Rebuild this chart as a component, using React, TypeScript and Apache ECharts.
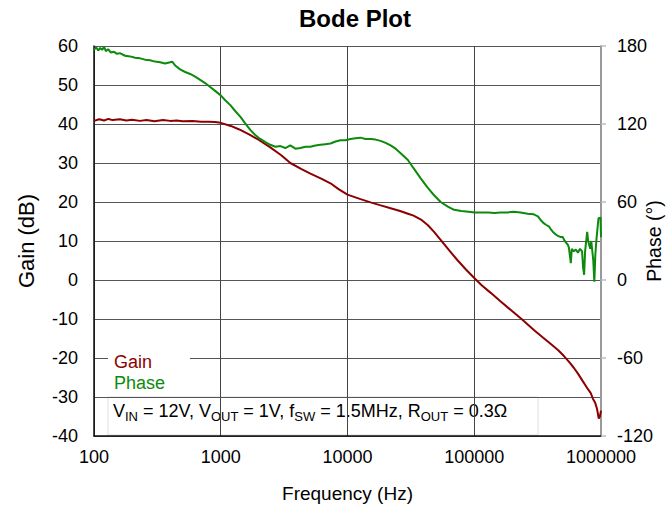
import React, { useEffect, useRef } from "react";
import * as echarts from "echarts";

const gainFreq = [100,110,120,130,140,160,180,200,230,260,300,350,400,450,500,600,700,800,900,1000,1200,1400,1700,2000,2460,3000,3540,4300,5100,6200,7340,8500,10000,12500,15200,18000,21900,26000,30000,33200,38000,42900,48000,54300,63000,74100,86000,100000,115000,134900,160000,194400,240000,295400,350000,402000,460000,510000,560000,610000,658000,720000,789000,830000,865000,900000,930000,960000,980000,1000000];
const gainDb = [40.8,41.2,40.9,41.3,41.0,41.2,40.9,41.1,40.8,41.0,40.7,41.0,40.8,40.9,40.7,40.8,40.6,40.6,40.5,40.3,39.5,38.6,37.2,35.9,34.0,32.0,30.0,28.5,27.3,26.0,24.8,23.3,21.9,20.8,19.9,19.2,18.4,17.7,17.0,16.5,15.5,14.1,12.4,10.3,7.7,5.0,2.7,0.5,-1.4,-3.3,-5.4,-7.7,-10.2,-12.8,-14.8,-16.4,-18.0,-19.5,-21.0,-22.5,-24.0,-26.0,-28.0,-29.0,-30.5,-31.5,-33.0,-35.5,-35.0,-33.5];

const phaseFreq = [100,104,108,112,116,120,124,129,136,144,152,160,176,193,211,231,253,277,303,332,364,399,414,437,478,524,574,628,688,753,825,903,1000,1080,1190,1300,1430,1560,1711,1870,2050,2250,2460,2700,2960,3230,3540,3880,4250,4650,5100,5580,6110,6700,7340,8040,8800,9640,10560,11570,12670,13880,15200,16650,18240,19980,21880,23970,26260,29960,33200,37800,42900,48000,54300,61900,69400,79000,90000,101000,113000,129000,145000,161000,183000,205000,232000,264000,295000,318000,335000,355000,368000,390000,402000,418000,440000,457000,482000,500000,510000,528000,548000,558000,578000,588000,610000,633000,658000,683000,709000,722000,736000,749000,778000,792000,822000,838000,869000,886000,903000,920000,955000,991000,1000000];
const phaseDeg = [177,179,176.5,178.5,177,179.5,176,177.5,175,175.5,174,174.5,172.5,172,171,170.5,169.5,169,168,167.5,166.5,167.5,168,165,162,160,158.5,156.5,154,151.5,148.5,145.5,142,138.5,134.5,130,125.5,120.5,115.5,111.5,108.5,106,104,102.5,103,101.5,103.5,101,101.5,102.5,102.5,103.5,104,104.5,105,106.5,107.5,107.5,108.5,109,109.5,108.5,108.5,108,107,105.5,103.5,101,97.5,92.3,86,78.2,71,65.4,60,56.5,54,53,52.5,52,52,52,51.5,52,52,52.5,52,51,50.5,49,46,43.5,42.5,41,39,37,35,34,33,33,31,29,27,25,13,24,22,23.5,21,24,22,10,4,22,37,30,24,30,15,-1.3,20,30.8,47.5,48,33];

const gainTicks = { min: -40, max: 60, interval: 10 };
const phaseTicks = { min: -120, max: 180, interval: 60 };
const freqRange = { min: 100, max: 1000000 };

const FONT = "'Liberation Sans', Arial, sans-serif";

export default function App() {
  const ref = useRef<HTMLDivElement>(null);
  useEffect(() => {
    document.body.style.margin = "0";
    const chart = echarts.init(ref.current!, undefined, { renderer: "svg" });
    const gainData = gainFreq.map((f, i) => [f, gainDb[i]]);
    const phaseData = phaseFreq.map((f, i) => [f, phaseDeg[i]]);
    chart.setOption({
      animation: false,
      backgroundColor: "#fff",
      textStyle: { fontFamily: FONT },
      title: {
        text: "Bode Plot",
        left: 350,
        textAlign: "center",
        top: 1,
        textStyle: { fontSize: 24, fontWeight: "bold", color: "#000", fontFamily: FONT },
      },
      grid: { left: 94, right: 71, top: 46, bottom: 75, containLabel: false, outerBoundsMode: "none" },
      legend: {
        orient: "vertical",
        left: 108,
        top: 349,
        icon: "none",
        itemWidth: 0,
        itemHeight: 18,
        itemGap: 3,
        padding: [4, 25, 4, 1],
        backgroundColor: "#fff",
        selectedMode: false,
        textStyle: { fontSize: 18, fontFamily: FONT },
        data: [
          { name: "Gain", textStyle: { color: "#8b0000" } },
          { name: "Phase", textStyle: { color: "#0d8a0d" } },
        ],
      },
      xAxis: {
        type: "log",
        logBase: 10,
        min: freqRange.min,
        max: freqRange.max,
        name: "Frequency (Hz)",
        nameLocation: "middle",
        nameGap: 48,
        nameMoveOverlap: false,
        nameTextStyle: { fontSize: 19, color: "#000", fontFamily: FONT },
        axisLine: { show: true, onZero: false, lineStyle: { color: "#111", width: 1.5 } },
        axisTick: { show: false },
        minorTick: { show: false },
        splitLine: { show: true, lineStyle: { color: "#444", width: 1 } },
        axisLabel: {
          fontSize: 18,
          color: "#000",
          margin: 12,
          fontFamily: FONT,
          formatter: (v: number) => String(Math.round(v)),
        },
      },
      yAxis: [
        {
          type: "value",
          min: gainTicks.min,
          max: gainTicks.max,
          interval: gainTicks.interval,
          name: "Gain (dB)",
          nameLocation: "middle",
          nameRotate: 90,
          nameGap: 57,
          nameMoveOverlap: false,
          nameTextStyle: { fontSize: 22, color: "#000", fontFamily: FONT },
          axisLine: { show: true, onZero: false, lineStyle: { color: "#111", width: 1.5 } },
          axisTick: { show: false },
          splitLine: { show: true, lineStyle: { color: "#555", width: 1 } },
          axisLabel: { fontSize: 18, color: "#000", margin: 16, fontFamily: FONT },
        },
        {
          type: "value",
          position: "right",
          min: phaseTicks.min,
          max: phaseTicks.max,
          interval: phaseTicks.interval,
          name: "Phase (°)",
          nameLocation: "middle",
          nameRotate: 90,
          nameGap: 43,
          nameMoveOverlap: false,
          nameTextStyle: { fontSize: 19.5, color: "#000", fontFamily: FONT },
          axisLine: { show: true, onZero: false, lineStyle: { color: "#999", width: 2 } },
          axisTick: { show: true, length: 5, lineStyle: { color: "#bbb", width: 1.5 } },
          splitLine: { show: false },
          axisLabel: { fontSize: 18, color: "#000", margin: 16, fontFamily: FONT },
        },
      ],
      graphic: [
        {
          type: "group",
          z: 10,
          children: [
            {
              type: "rect",
              shape: { x: 108, y: 397, width: 430, height: 38 },
              style: { fill: "#fff", stroke: "#ddd", lineWidth: 1 },
            },
            {
              type: "text",
              x: 113,
              y: 411,
              style: {
                text: "{n|V}{s|IN}{n| = 12V, V}{s|OUT}{n| = 1V, f}{s|SW}{n| = 1.5MHz, R}{s|OUT}{n| = 0.3Ω}",
                verticalAlign: "middle",
                align: "left",
                rich: {
                  n: { fontSize: 18, fontFamily: FONT, fill: "#000", color: "#000" },
                  s: { fontSize: 13, fontFamily: FONT, fill: "#000", color: "#000", padding: [10, 0, 0, 0] },
                },
              },
            },
          ],
        },
      ],
      series: [
        {
          name: "Gain",
          type: "line",
          yAxisIndex: 0,
          data: gainData,
          symbol: "none",
          color: "#8b0000",
          lineStyle: { color: "#8b0000", width: 2 },
          z: 3,
        },
        {
          name: "Phase",
          type: "line",
          yAxisIndex: 1,
          data: phaseData,
          symbol: "none",
          color: "#0d8a0d",
          lineStyle: { color: "#0d8a0d", width: 2 },
          z: 3,
        },
      ],
    });
    return () => chart.dispose();
  }, []);
  return <div ref={ref} style={{ position: "fixed", left: 0, top: 0, width: 672, height: 511 }} />;
}
